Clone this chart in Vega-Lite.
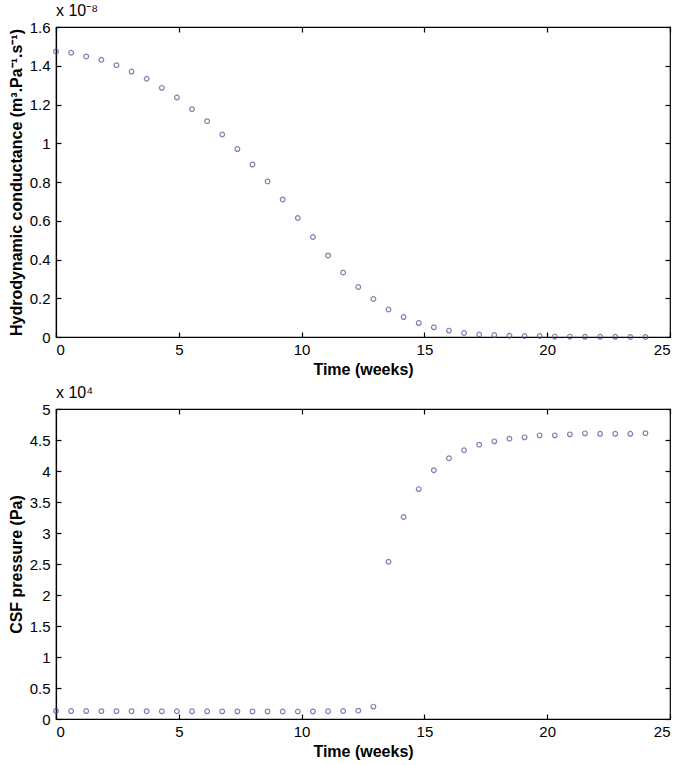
{
  "$schema": "https://vega.github.io/schema/vega-lite/v6.json",
  "padding": {"left": 7, "top": 2, "right": 4, "bottom": 4},
  "background": "white",
  "config": {
    "font": "Liberation Sans",
    "view": {"stroke": "#000", "strokeWidth": 1.2},
    "axis": {
      "grid": false,
      "labelFont": "Liberation Sans",
      "labelFontSize": 15,
      "labelColor": "#000",
      "titleFont": "Liberation Sans",
      "titleFontSize": 16,
      "titleFontWeight": "bold",
      "titleColor": "#000",
      "domainColor": "#000",
      "domainWidth": 1.2,
      "tickColor": "#000",
      "tickWidth": 1.2,
      "tickSize": -5,
      "labelPadding": 11
    },
    "axisX": {"labelPadding": 10, "titlePadding": 4},
    "axisY": {"titlePadding": 5},
    "title": {"font": "Liberation Sans", "fontSize": 16, "fontWeight": "normal", "color": "#000", "anchor": "start", "frame": "group", "offset": 1}
  },
  "data": {"values": [
    {"t": 0.0, "conductance": 1.474, "pressure": 0.130},
    {"t": 0.615, "conductance": 1.467, "pressure": 0.128},
    {"t": 1.231, "conductance": 1.448, "pressure": 0.128},
    {"t": 1.846, "conductance": 1.431, "pressure": 0.127},
    {"t": 2.462, "conductance": 1.403, "pressure": 0.127},
    {"t": 3.077, "conductance": 1.370, "pressure": 0.126},
    {"t": 3.692, "conductance": 1.333, "pressure": 0.126},
    {"t": 4.308, "conductance": 1.286, "pressure": 0.125},
    {"t": 4.923, "conductance": 1.236, "pressure": 0.125},
    {"t": 5.538, "conductance": 1.176, "pressure": 0.124},
    {"t": 6.154, "conductance": 1.114, "pressure": 0.124},
    {"t": 6.769, "conductance": 1.045, "pressure": 0.123},
    {"t": 7.385, "conductance": 0.970, "pressure": 0.123},
    {"t": 8.0, "conductance": 0.890, "pressure": 0.122},
    {"t": 8.615, "conductance": 0.803, "pressure": 0.122},
    {"t": 9.231, "conductance": 0.710, "pressure": 0.121},
    {"t": 9.846, "conductance": 0.614, "pressure": 0.121},
    {"t": 10.462, "conductance": 0.516, "pressure": 0.122},
    {"t": 11.077, "conductance": 0.421, "pressure": 0.125},
    {"t": 11.692, "conductance": 0.333, "pressure": 0.129},
    {"t": 12.308, "conductance": 0.258, "pressure": 0.135},
    {"t": 12.923, "conductance": 0.196, "pressure": 0.200},
    {"t": 13.538, "conductance": 0.142, "pressure": 2.536},
    {"t": 14.154, "conductance": 0.103, "pressure": 3.258},
    {"t": 14.769, "conductance": 0.072, "pressure": 3.708},
    {"t": 15.385, "conductance": 0.050, "pressure": 4.013},
    {"t": 16.0, "conductance": 0.033, "pressure": 4.205},
    {"t": 16.615, "conductance": 0.021, "pressure": 4.334},
    {"t": 17.231, "conductance": 0.013, "pressure": 4.425},
    {"t": 17.846, "conductance": 0.010, "pressure": 4.478},
    {"t": 18.462, "conductance": 0.007, "pressure": 4.522},
    {"t": 19.077, "conductance": 0.005, "pressure": 4.543},
    {"t": 19.692, "conductance": 0.005, "pressure": 4.575},
    {"t": 20.308, "conductance": 0.002, "pressure": 4.575},
    {"t": 20.923, "conductance": 0.002, "pressure": 4.591},
    {"t": 21.538, "conductance": 0.001, "pressure": 4.607},
    {"t": 22.154, "conductance": 0.001, "pressure": 4.600},
    {"t": 22.769, "conductance": 0.001, "pressure": 4.600},
    {"t": 23.385, "conductance": 0.0, "pressure": 4.600},
    {"t": 24.0, "conductance": 0.0, "pressure": 4.610}
  ]},
  "spacing": 6,
  "vconcat": [
    {
      "width": 614,
      "height": 310,
      "title": {"text": "x 10⁻⁸"},
      "resolve": {"axis": {"x": "independent", "y": "independent"}},
      "layer": [
        {
          "mark": {"type": "point", "shape": "circle", "filled": false, "size": 22, "strokeWidth": 1.2, "color": "#4d4d90"},
          "encoding": {
            "x": {"field": "t", "type": "quantitative", "scale": {"domain": [0, 25], "nice": false},
                  "axis": {"title": "Time (weeks)", "values": [0, 5, 10, 15, 20, 25], "format": "~g"}},
            "y": {"field": "conductance", "type": "quantitative", "scale": {"domain": [0, 1.6], "nice": false},
                  "axis": {"title": "Hydrodynamic conductance (m³.Pa⁻¹.s⁻¹)", "values": [0, 0.2, 0.4, 0.6, 0.8, 1, 1.2, 1.4, 1.6], "format": "~g"}}
          }
        },
        {
          "mark": {"type": "point", "opacity": 0},
          "encoding": {
            "x": {"field": "t", "type": "quantitative", "axis": {"orient": "top", "labels": false, "title": null, "domain": false, "values": [0, 5, 10, 15, 20, 25]}},
            "y": {"field": "conductance", "type": "quantitative", "axis": {"orient": "right", "labels": false, "title": null, "domain": false, "values": [0, 0.2, 0.4, 0.6, 0.8, 1, 1.2, 1.4, 1.6]}}
          }
        }
      ]
    },
    {
      "width": 614,
      "height": 310,
      "title": {"text": "x 10⁴"},
      "resolve": {"axis": {"x": "independent", "y": "independent"}},
      "layer": [
        {
          "mark": {"type": "point", "shape": "circle", "filled": false, "size": 22, "strokeWidth": 1.2, "color": "#4d4d90"},
          "encoding": {
            "x": {"field": "t", "type": "quantitative", "scale": {"domain": [0, 25], "nice": false},
                  "axis": {"title": "Time (weeks)", "values": [0, 5, 10, 15, 20, 25], "format": "~g"}},
            "y": {"field": "pressure", "type": "quantitative", "scale": {"domain": [0, 5], "nice": false},
                  "axis": {"title": "CSF pressure (Pa)", "values": [0, 0.5, 1, 1.5, 2, 2.5, 3, 3.5, 4, 4.5, 5], "format": "~g"}}
          }
        },
        {
          "mark": {"type": "point", "opacity": 0},
          "encoding": {
            "x": {"field": "t", "type": "quantitative", "axis": {"orient": "top", "labels": false, "title": null, "domain": false, "values": [0, 5, 10, 15, 20, 25]}},
            "y": {"field": "pressure", "type": "quantitative", "axis": {"orient": "right", "labels": false, "title": null, "domain": false, "values": [0, 0.5, 1, 1.5, 2, 2.5, 3, 3.5, 4, 4.5, 5]}}
          }
        }
      ]
    }
  ]
}
